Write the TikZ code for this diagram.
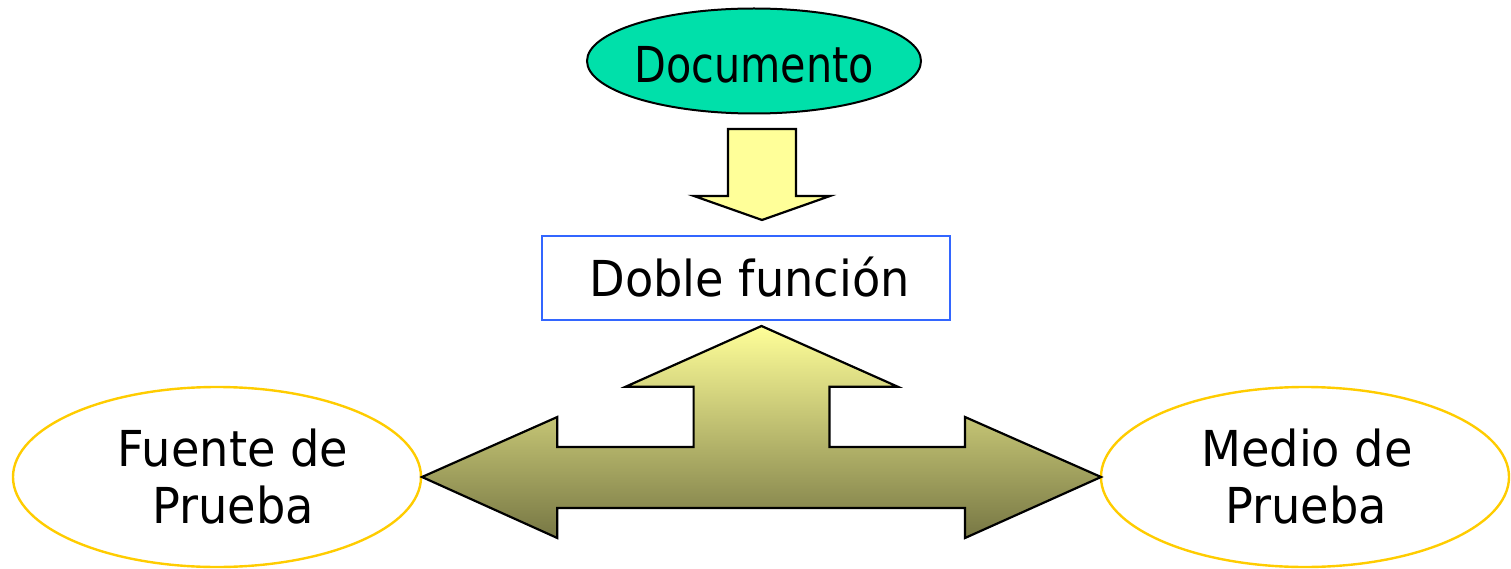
\documentclass[tikz,border=0pt]{standalone}
\usepackage{fontspec}
\setmainfont{DejaVu Sans}[FakeStretch=0.935]
\newfontfamily\docfont{DejaVu Sans}[FakeStretch=0.835]
\usetikzlibrary{shapes.geometric}
\definecolor{docgreen}{HTML}{00E0AA}
\definecolor{boxblue}{HTML}{3366FF}
\definecolor{gold}{HTML}{FFCC00}
\definecolor{paleyellow}{HTML}{FFFF99}
\definecolor{olive}{HTML}{777744}
\tikzset{
  txt/.style={font=\fontsize{49.5}{57}\selectfont, inner sep=0pt, anchor=base},
  docshape/.style={ellipse, draw=black, line width=2pt, fill=docgreen, minimum width=334pt, minimum height=105pt, inner sep=0pt},
  boxshape/.style={rectangle, draw=boxblue, line width=2pt, minimum width=408pt, minimum height=84pt, inner sep=0pt},
  oval/.style={ellipse, draw=gold, line width=2.4pt, minimum width=408pt, minimum height=180pt, inner sep=0pt},
  blockarrow/.style={draw=black, line width=2.2pt, line join=miter},
}
\begin{document}
\begin{tikzpicture}[x=1pt,y=-1pt]
\useasboundingbox (0,0) rectangle (1511,569);
% nodes
\node[docshape] (doc) at (754,61) {};
\node[txt, font=\docfont\fontsize{49.5}{57}\selectfont] (doctext) at (754,82.7) {Documento};
\node[boxshape] (box) at (746,278) {};
\node[txt] (boxtext) at (749.5,296.7) {Doble función};
\node[oval] (fuente) at (217,477) {};
\node[txt] (fuente1) at (233,466.7) {Fuente de};
\node[txt] (fuente2) at (233,523) {Prueba};
\node[oval] (medio) at (1305,477) {};
\node[txt] (medio1) at (1307,466.7) {Medio de};
\node[txt] (medio2) at (1306,523) {Prueba};
% down arrow
\draw[blockarrow, fill=paleyellow]
  (728,129) -- (796,129) -- (796,196) -- (830,196) -- (762,220)
  -- (694,196) -- (728,196) -- cycle;
% three-way arrow
\draw[blockarrow, top color=paleyellow, bottom color=olive]
  (761.5,326) -- (897.7,386.7) -- (829.4,386.7) -- (829.4,447) -- (965,447)
  -- (965,417) -- (1101,477) -- (965,538) -- (965,508) -- (557.3,508)
  -- (557.3,538) -- (422,477) -- (557.3,417) -- (557.3,447) -- (693.6,447)
  -- (693.6,386.7) -- (625.7,386.7) -- cycle;
\end{tikzpicture}
\end{document}
